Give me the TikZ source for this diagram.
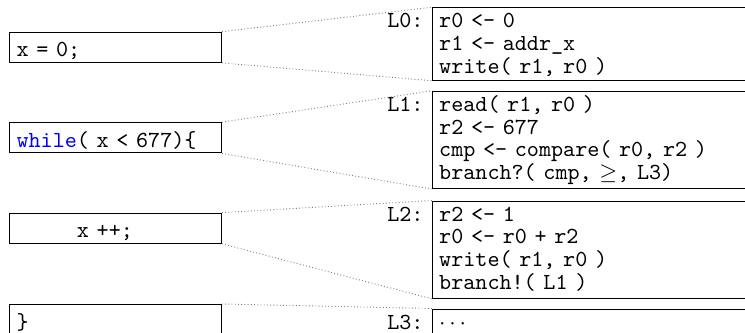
\documentclass[tikz,border=0pt]{standalone}
\newcommand{\codefnt}{\ttfamily\fontsize{10pt}{9.87pt}\selectfont}
\begin{document}
\lineskiplimit=-100pt
\begin{tikzpicture}[x=0.434783pt, y=-0.434783pt,
  srcbox/.style={draw, line width=0.4pt, anchor=north west, font=\codefnt,
    inner xsep=3.1pt, inner ysep=0pt, text width=85.97pt, align=left,
    text height=10.7pt, text depth=2.47pt},
  asmbox/.style={draw, line width=0.4pt, anchor=north west, font=\codefnt,
    inner xsep=2.8pt, inner ysep=0pt, text width=200pt, align=left,
    text height=8.8pt},
  lbl/.style={anchor=base east, inner sep=0pt, font=\codefnt},
  conn/.style={draw=gray, densely dotted, line width=0.4pt}]
\useasboundingbox (0,0) rectangle (745,333);
\clip (0,0) rectangle (745,333);
% source boxes
\node[srcbox] (A) at (9,31.7) {x = 0;};
\node[srcbox] (B) at (9,122.2) {\textcolor{blue}{while}( x < 677)\{};
\node[srcbox] (C) at (9,212.6) {\hphantom{00000}x ++;};
\node[srcbox, text depth=8pt] (D) at (9,304) {\}};
% assembly boxes
\node[asmbox, text depth=22.8pt] (L0) at (432.3,7.2)
  {r0 <- 0\\r1 <- addr\_x\\write( r1, r0 )};
\node[asmbox, text depth=33.6pt] (L1) at (432.3,90.7)
  {read( r1, r0 )\\r2 <- 677\\cmp <- compare( r0, r2 )\\branch?( cmp, $\geq$, L3)};
\node[asmbox, text depth=33.6pt] (L2) at (432.3,200.5)
  {r2 <- 1\\r0 <- r0 + r2\\write( r1, r0 )\\branch!( L1 )};
\node[asmbox, text depth=20pt] (L3) at (432.3,308.5) {$\cdots$};
% labels
\node[lbl] (l0) at ([xshift=-3.6pt]L0.base west) {L0:};
\node[lbl] (l1) at ([xshift=-3.6pt]L1.base west) {L1:};
\node[lbl] (l2) at ([xshift=-3.6pt]L2.base west) {L2:};
\node[lbl] (l3) at ([xshift=-3.6pt]L3.base west) {L3:};
% connectors
\draw[conn] (A.north east) -- (L0.north west);
\draw[conn] (A.south east) -- (L0.south west);
\draw[conn] (B.north east) -- (L1.north west);
\draw[conn] (B.south east) -- (L1.south west);
\draw[conn] (C.north east) -- (L2.north west);
\draw[conn] (C.south east) -- (L2.south west);
\draw[conn] (D.north east) -- (L3.north west);
\end{tikzpicture}
\end{document}
